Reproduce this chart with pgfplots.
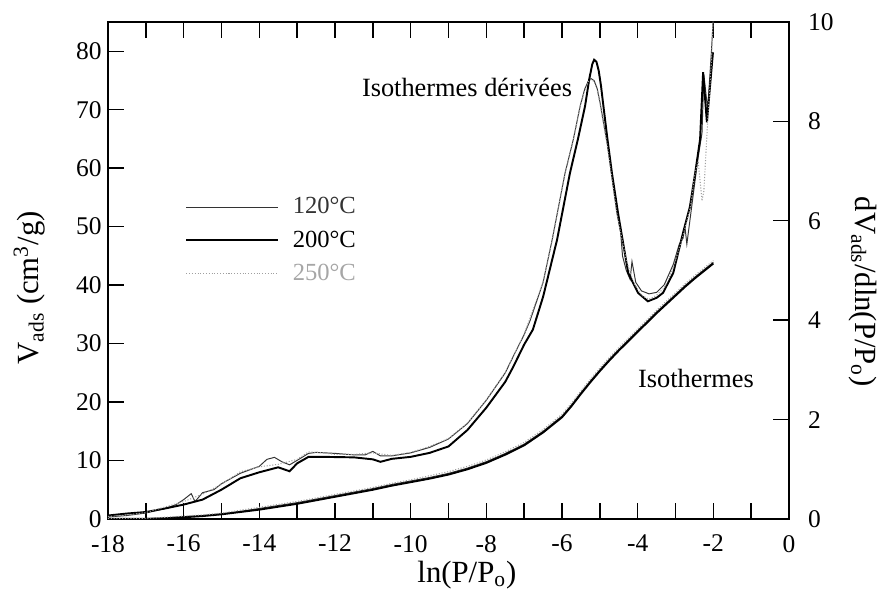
\documentclass[border=0pt]{standalone}
\usepackage{pgfplots}
\pgfplotsset{compat=1.18}
\usepackage{fontspec}
\setmainfont{Liberation Serif}
\begin{document}
\begin{tikzpicture}
\pgfplotsset{
  common/.style={
    scale only axis, width=13.62cm, height=9.94cm,
    xmin=-18, xmax=0,
    axis line style={line width=0.8pt},
    tick style={line width=0.8pt, black},
    tick align=inside,
    major tick length=0.32cm, minor tick length=0.32cm,
    /pgf/number format/assume math mode=true,
    tick label style={font=\fontsize{14.5}{16}\selectfont, inner sep=1pt},
    label style={font=\fontsize{17.5}{20}\selectfont},
  },
  s120/.style={black!80, line width=0.55pt},
  s200/.style={black, line width=1.1pt},
  s250/.style={gray!75, line width=0.6pt, densely dotted},
}
\begin{axis}[common,
  ymin=0, ymax=85,
  ytick={0,10,...,80}, ytick pos=left,
  xtick={-18,-16,...,0}, minor xtick={-17,-15,...,-1},
  xtick pos=both, xticklabel pos=lower,
  xticklabel style={yshift=-0.28cm},
  yticklabel style={xshift=-0.085cm},
  xlabel={ln(P/P\textsubscript{o})},
  ylabel={V\textsubscript{ads} (cm\textsuperscript{3}/g)},
  x label style={at={(axis description cs:0.527,-0.112)}, anchor=center},
  y label style={at={(axis description cs:-0.115,0.465)}, anchor=center},
  legend style={draw=none, fill=none, at={(axis description cs:0.113,0.561)}, anchor=west,
    font=\fontsize{14}{16}\selectfont, row sep=4pt, inner sep=0pt,
    nodes={inner sep=2pt},
    /tikz/every odd column/.append style={column sep=0.2cm}},
  legend cell align=left,
  legend image code/.code={\draw[#1] (0cm,0cm) -- (1.84cm,0cm);},
]
% Isothermes (V_ads)
\addplot[s120] coordinates {
(-18,0.1) (-17,0.1) (-16.5,0.2) (-16,0.4) (-15.5,0.6) (-15,0.9) (-14.5,1.3) (-14,1.8)
(-13.5,2.3) (-13,2.8) (-12.5,3.4) (-12,4.0) (-11.5,4.6) (-11,5.2) (-10.5,5.9) (-10,6.5)
(-9.5,7.1) (-9,7.8) (-8.5,8.7) (-8,9.8) (-7.5,11.2) (-7,12.8) (-6.5,15.0) (-6,17.6)
(-5.75,19.5) (-5.5,21.6) (-5.25,23.6) (-5,25.5) (-4.75,27.3) (-4.5,29.0) (-4.25,30.6)
(-4,32.2) (-3.75,33.8) (-3.5,35.4) (-3.25,36.9) (-3,38.4) (-2.75,39.9) (-2.5,41.3)
(-2.25,42.6) (-2,43.9)};
\addlegendentry{\textcolor{black!80}{120°C}}
\addplot[s200] coordinates {
(-18,0) (-17,0) (-16.5,0.1) (-16,0.3) (-15.5,0.5) (-15,0.8) (-14.5,1.2) (-14,1.6)
(-13.5,2.1) (-13,2.6) (-12.5,3.2) (-12,3.8) (-11.5,4.4) (-11,5.0) (-10.5,5.7) (-10,6.3)
(-9.5,6.9) (-9,7.6) (-8.5,8.5) (-8,9.6) (-7.5,11.0) (-7,12.6) (-6.5,14.8) (-6,17.4)
(-5.75,19.3) (-5.5,21.4) (-5.25,23.4) (-5,25.3) (-4.75,27.1) (-4.5,28.8) (-4.25,30.4)
(-4,32.0) (-3.75,33.6) (-3.5,35.2) (-3.25,36.7) (-3,38.2) (-2.75,39.7) (-2.5,41.1)
(-2.25,42.4) (-2,43.7)};
\addlegendentry{200°C}
\addplot[s250] coordinates {
(-18,0.1) (-17,0.1) (-16.5,0.3) (-16,0.5) (-15.5,0.7) (-15,1.0) (-14.5,1.5) (-14,2.0)
(-13.5,2.5) (-13,3.0) (-12.5,3.6) (-12,4.2) (-11.5,4.8) (-11,5.4) (-10.5,6.1) (-10,6.7)
(-9.5,7.4) (-9,8.1) (-8.5,9.0) (-8,10.1) (-7.5,11.5) (-7,13.1) (-6.5,15.3) (-6,17.9)
(-5.75,19.8) (-5.5,21.9) (-5.25,23.9) (-5,25.8) (-4.75,27.6) (-4.5,29.3) (-4.25,30.9)
(-4,32.5) (-3.75,34.1) (-3.5,35.7) (-3.25,37.2) (-3,38.7) (-2.75,40.2) (-2.5,41.6)
(-2.25,42.9) (-2,44.2)};
\addlegendentry{\textcolor{gray!70}{250°C}}
\node[font=\fontsize{15}{17}\selectfont] at (axis cs:-8.51,73.8) {Isothermes dérivées};
\node[font=\fontsize{15}{17}\selectfont] at (axis cs:-2.46,24.1) {Isothermes};
\end{axis}
\begin{axis}[common,
  ymin=0, ymax=10,
  hide x axis,
  axis y line*=right,
  ytick={0,2,...,10},
  yticklabel style={xshift=0.34cm},
  ylabel={dV\textsubscript{ads}/dln(P/P\textsubscript{o})},
  y label style={at={(axis description cs:1.109,0.457)}, anchor=center, rotate=180},
]
% Isothermes derivees (dV/dlnP)
\addplot[s120] coordinates {
(-18,0.04) (-17.5,0.07) (-17,0.12) (-16.5,0.21) (-16.2,0.29) (-16,0.39) (-15.8,0.51) (-15.7,0.35)
(-15.5,0.53) (-15.2,0.59) (-15,0.71) (-14.5,0.92) (-14,1.06) (-13.8,1.2) (-13.6,1.24) (-13.4,1.15)
(-13.2,1.09) (-13,1.18) (-12.7,1.32) (-12.5,1.34) (-12,1.32) (-11.5,1.29) (-11.2,1.29) (-11,1.36)
(-10.8,1.27) (-10.5,1.27) (-10,1.33) (-9.5,1.44) (-9,1.61) (-8.5,1.92) (-8,2.39) (-7.5,2.94)
(-7.29,3.27) (-7,3.71) (-6.84,4.0) (-6.5,4.76) (-6.26,5.62) (-5.92,6.96) (-5.7,7.64) (-5.52,8.31)
(-5.4,8.65) (-5.3,8.82) (-5.23,8.86) (-5.15,8.82) (-5.07,8.66) (-4.99,8.36) (-4.8,7.53) (-4.55,6.16) (-4.45,5.76) (-4.4,5.29)
(-4.3,5.0) (-4.2,4.82) (-4.15,5.18) (-4.05,4.76) (-3.9,4.59) (-3.7,4.53) (-3.5,4.56) (-3.3,4.71)
(-3.06,5.12) (-2.9,5.53) (-2.8,5.65) (-2.75,5.88) (-2.7,5.53) (-2.6,6.12) (-2.5,6.71) (-2.4,7.29)
(-2.3,7.76) (-2.25,8.94) (-2.15,8.24) (-2.05,9.41) (-2,10.1)};
\addplot[s200] coordinates {
(-18,0.07) (-17.5,0.11) (-17,0.14) (-16.5,0.21) (-16,0.29) (-15.5,0.39) (-15,0.59) (-14.5,0.82)
(-14,0.94) (-13.5,1.04) (-13.2,0.96) (-13,1.12) (-12.7,1.25) (-12.3,1.25) (-11.5,1.24) (-11,1.2)
(-10.8,1.15) (-10.5,1.21) (-10,1.25) (-9.5,1.33) (-9,1.46) (-8.5,1.79) (-8,2.24) (-7.5,2.76)
(-7.29,3.06) (-7,3.51) (-6.77,3.81) (-6.5,4.47) (-6.13,5.62) (-5.79,6.96) (-5.58,7.64) (-5.39,8.31)
(-5.28,8.85) (-5.2,9.15) (-5.15,9.24) (-5.09,9.2) (-5.03,9.02) (-4.97,8.72) (-4.92,8.4) (-4.8,7.65) (-4.68,6.96) (-4.52,6.16) (-4.25,4.95)
(-3.99,4.55) (-3.73,4.38) (-3.5,4.45) (-3.33,4.55) (-3.06,4.95) (-2.8,5.76) (-2.62,6.28) (-2.48,6.96)
(-2.35,7.64) (-2.27,8.99) (-2.17,7.98) (-2.01,9.39)};
\addplot[s250] coordinates {
(-18,0.05) (-17.5,0.08) (-17,0.13) (-16.5,0.24) (-16,0.35) (-15.5,0.5) (-15,0.7) (-14.5,0.95)
(-14,1.05) (-13.5,1.1) (-13,1.2) (-12.7,1.35) (-12.3,1.33) (-12,1.3) (-11.5,1.3) (-11,1.33)
(-10.5,1.28) (-10,1.34) (-9.5,1.46) (-9,1.62) (-8.5,1.93) (-8,2.4) (-7.5,2.95) (-7,3.72)
(-6.5,4.77) (-6.26,5.6) (-5.92,6.95) (-5.7,7.62) (-5.52,8.3) (-5.4,8.62) (-5.3,8.8) (-5.23,8.84) (-5.15,8.8)
(-5.07,8.64) (-4.99,8.33) (-4.8,7.5) (-4.55,6.15) (-4.3,5.2) (-4.1,4.75) (-3.9,4.5) (-3.7,4.42) (-3.5,4.5)
(-3.3,4.65) (-3.06,5.05) (-2.8,5.7) (-2.6,6.3) (-2.5,6.9) (-2.4,7.2) (-2.3,6.4) (-2.25,6.6)
(-2.15,8.0) (-2.05,9.2) (-2,10.2)};
\end{axis}
\pgfresetboundingbox
\path[use as bounding box] (-2.16,-1.64) rectangle (15.44,10.38);
\end{tikzpicture}
\end{document}
